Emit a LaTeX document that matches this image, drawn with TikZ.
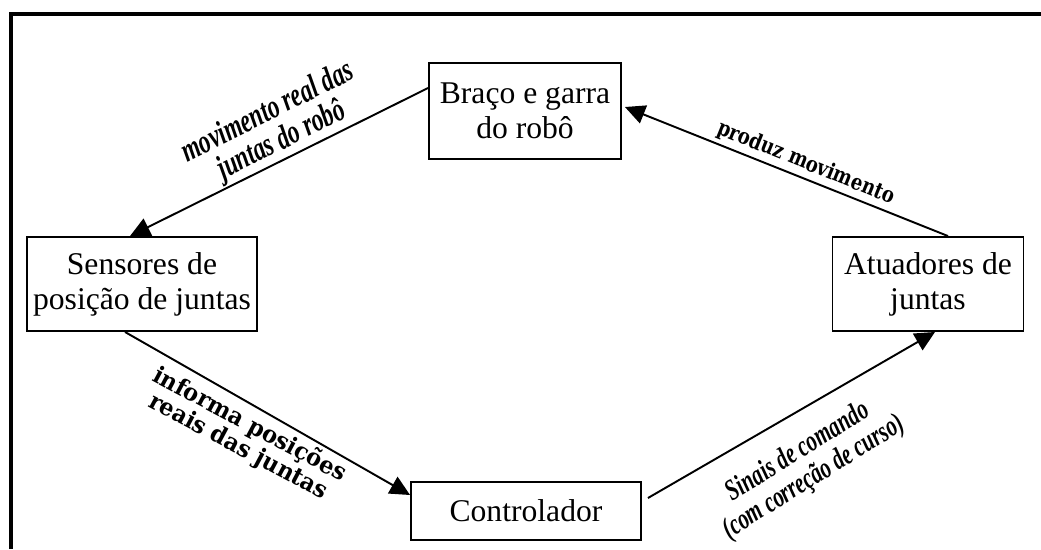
\documentclass[tikz,border=0pt]{standalone}
\usepackage{fontspec}
\setmainfont{Liberation Serif}
\newfontfamily\rotulofont[FakeStretch=0.7]{Liberation Serif}
\newfontfamily\slabfont[FakeStretch=0.82]{DejaVu Serif}
\newfontfamily\slablargo[FakeStretch=0.95]{DejaVu Serif}
\usetikzlibrary{arrows.meta,shapes}
\usetikzlibrary{calc}

\begin{document}
\begin{tikzpicture}[x=0.02cm, y=-0.02cm,
  caixa/.style={draw, line width=1.1pt, align=center, inner sep=0pt,
    font=\fontsize{18}{20}\selectfont},
  seta/.style={line width=1.1pt, -{Triangle[length=0.4cm, width=0.38cm]}},
  rotulo/.style={align=center, font=\rotulofont\bfseries\itshape\fontsize{19}{18}\selectfont},
  rotulolargo/.style={align=center, font=\slabfont\bfseries\fontsize{12.5}{13}\selectfont}]

 \useasboundingbox (0,0) rectangle (1041,549);

 % moldura
 \draw[line width=2.3pt] (11,549) -- (11,14) -- (1041,14);

 % caixas
 \node[caixa, minimum width=3.84cm, minimum height=1.92cm] (braco) at (525,111) {Braço e garra\\do robô};
 \node[caixa, minimum width=4.6cm, minimum height=1.88cm] (sens) at (142,284) {Sensores de\\posição de juntas};
 \node[caixa, minimum width=3.82cm, minimum height=1.88cm] (atu) at (928,284) {Atuadores de\\juntas};
 \node[caixa, minimum width=4.6cm, minimum height=1.16cm] (ctrl) at (526,511) {Controlador};

 % setas
 \foreach \origem/\destino in {{($(braco.west)+(0,-23)$)/($(sens.north)+(-12,0)$)},
                               {($(sens.south)+(-17,0)$)/($(ctrl.west)+(0,-16)$)},
                               {($(ctrl.east)+(6,-13)$)/($(atu.south)+(7,0)$)},
                               {($(atu.north)+(20,0)$)/($(braco.east)+(3,-4)$)}}
   \draw[seta] \origem -- \destino;

 % rotulos
 \node[rotulo, rotate=26.6] (lmov) at (275,127) {movimento real das\\juntas do robô};
 \node[rotulolargo, rotate=-22] (lprod) at (806,163) {produz movimento};
 \node[rotulolargo, font=\slablargo\bfseries\fontsize{13.5}{14}\selectfont, rotate=-28] (linf) at (244,436) {informa posições\\reais das juntas};
 \node[rotulo, font=\rotulofont\bfseries\itshape\fontsize{17}{17}\selectfont, rotate=32] (lsin) at (806,465) {Sinais de comando\\(com correção de curso)};

\end{tikzpicture}
\end{document}
